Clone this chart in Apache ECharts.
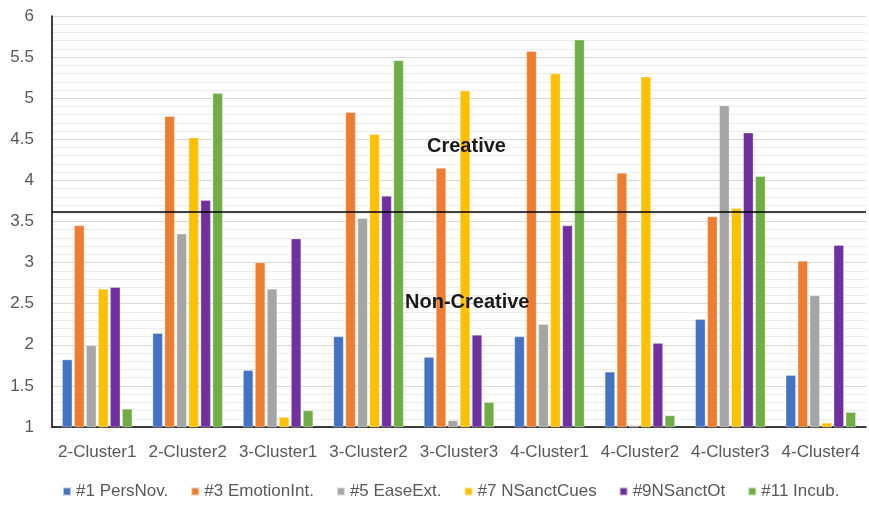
<!DOCTYPE html>
<html>
<head>
<meta charset="utf-8">
<script src="https://cdn.jsdelivr.net/npm/echarts@6/dist/echarts.min.js"></script>
<style>
  html, body { margin: 0; padding: 0; background: #fff; }
  #chart { width: 869px; height: 507px; }
</style>
</head>
<body>
<div id="chart"></div>
<script>
// Cluster groups along the x axis
const categories = ['2-Cluster1', '2-Cluster2', '3-Cluster1', '3-Cluster2', '3-Cluster3',
                    '4-Cluster1', '4-Cluster2', '4-Cluster3', '4-Cluster4'];

// Mean score per factor for each cluster
const persNov      = [1.82, 2.14, 1.69, 2.10, 1.85, 2.10, 1.67, 2.31, 1.63];
const emotionInt   = [3.45, 4.78, 3.00, 4.83, 4.15, 5.57, 4.09, 3.56, 3.02];
const easeExt      = [1.99, 3.35, 2.68, 3.54, 1.08, 2.25, 1.02, 4.91, 2.60];
const nSanctCues   = [2.68, 4.52, 1.12, 4.56, 5.09, 5.30, 5.26, 3.66, 1.05];
const nSanctOt     = [2.70, 3.76, 3.29, 3.81, 2.12, 3.45, 2.02, 4.58, 3.21];
const incub        = [1.22, 5.06, 1.20, 5.46, 1.30, 5.71, 1.14, 4.05, 1.18];

const seriesNames  = ['#1 PersNov.', '#3 EmotionInt.', '#5 EaseExt.', '#7 NSanctCues', '#9NSanctOt', '#11 Incub.'];
const seriesValues = [persNov, emotionInt, easeExt, nSanctCues, nSanctOt, incub];
const colors       = ['#4472C4', '#ED7D31', '#A5A5A5', '#FFC000', '#7030A0', '#70AD47'];

// Boundary between creative and non-creative scores
const threshold = 3.62;

const chart = echarts.init(document.getElementById('chart'), null, { renderer: 'canvas' });

const series = seriesNames.map((name, i) => {
  const s = {
    name: name,
    type: 'bar',
    data: seriesValues[i],
    barWidth: 10,
    barGap: '20%',
    itemStyle: { color: colors[i], borderColor: 'rgba(255,255,255,0.6)', borderWidth: 0.5 }
  };
  if (i === 0) {
    s.markLine = {
      silent: true,
      symbol: ['none', 'none'],
      label: { show: false },
      lineStyle: { color: '#000', width: 1.5, type: 'solid' },
      data: [{ yAxis: threshold }]
    };
  }
  return s;
});

chart.setOption({
  animation: false,
  color: colors,
  grid: { left: 52, right: 3, top: 16, bottom: 80, containLabel: false },
  legend: {
    bottom: 2,
    left: 57,
    itemWidth: 8,
    itemHeight: 8,
    itemGap: 22,
    icon: 'rect',
    textStyle: { color: '#595959', fontSize: 17, fontFamily: 'Liberation Sans' },
    data: seriesNames
  },
  xAxis: {
    type: 'category',
    data: categories,
    axisLine: { lineStyle: { color: '#000', width: 1.5 } },
    axisTick: { show: false },
    axisLabel: { interval: 0, color: '#595959', fontSize: 17, fontFamily: 'Liberation Sans', margin: 17 },
    splitLine: { show: false }
  },
  yAxis: {
    type: 'value',
    min: 1,
    max: 6,
    interval: 0.5,
    axisLine: { show: true, lineStyle: { color: '#000', width: 1.5 } },
    axisTick: { show: false },
    axisLabel: { color: '#595959', fontSize: 17, fontFamily: 'Liberation Sans', margin: 18 },
    splitLine: { show: true, lineStyle: { color: '#d9d9d9', width: 1 } },
    minorTick: { show: false, splitNumber: 5 },
    minorSplitLine: { show: true, lineStyle: { color: '#ececec', width: 1 } }
  },
  graphic: [
    { type: 'text', left: 427, top: 136, z: 100,
      style: { text: 'Creative', fill: '#1a1a1a', font: 'bold 20px "Liberation Sans"' } },
    { type: 'text', left: 405, top: 292, z: 100,
      style: { text: 'Non-Creative', fill: '#1a1a1a', font: 'bold 20px "Liberation Sans"' } }
  ],
  series: series
});
</script>
</body>
</html>
